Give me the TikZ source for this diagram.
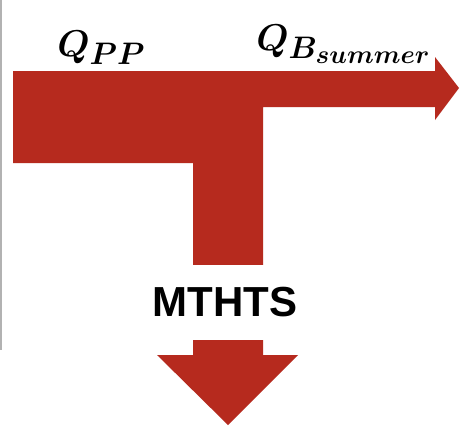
\documentclass[tikz,border=0pt]{standalone}
\usepackage{amsmath,bm}
\usepackage{fontspec}
\newfontfamily\labelsans{Liberation Sans}
\definecolor{flowred}{RGB}{182,42,30}
\tikzset{
  flow/.style={fill=flowred, draw=none},
  qlabel/.style={inner sep=0pt, anchor=base west, font=\Huge, scale=1.5, transform shape},
  boxlabel/.style={fill=white, inner sep=0pt, minimum width=150pt, minimum height=75pt,
    font=\labelsans\bfseries\fontsize{42}{46}\selectfont}
}
\begin{document}
\begin{tikzpicture}[x=1pt,y=-1pt]
\useasboundingbox (0,0) rectangle (460,429);
\fill[white] (0,0) rectangle (460,429);
\draw[gray!60, line width=2pt] (1,0) -- (1,350);
% T-shaped flow
\path[flow] (13,71) -- (435,71) -- (435,57) -- (459,88) -- (435,120) -- (435,107)
  -- (263,107) -- (263,355) -- (298,355) -- (228,425) -- (157,355) -- (193,355)
  -- (193,163) -- (13,163) -- cycle;
\node[boxlabel] (mthts) at (225,302) {MTHTS};
\node[qlabel] (qpp) at (57,56) {$\bm{Q_{PP}}$};
\node[qlabel] (qb) at (256,50) {$\bm{Q_{B_{summer}}}$};
\end{tikzpicture}
\end{document}
